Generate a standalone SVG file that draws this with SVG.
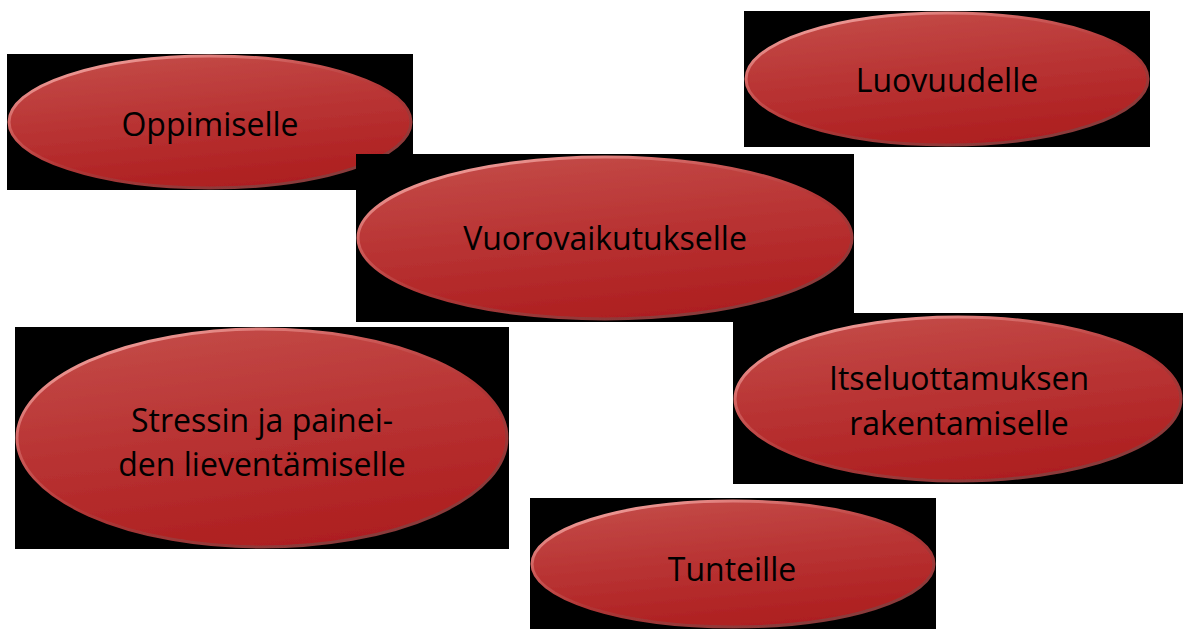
<svg xmlns="http://www.w3.org/2000/svg" width="1184" height="629" viewBox="0 0 1184 629">
  <defs>
    <linearGradient id="fillG" x1="0.3" y1="0" x2="0.6" y2="1">
      <stop offset="0" stop-color="#c34a47"/>
      <stop offset="0.5" stop-color="#b83232"/>
      <stop offset="1" stop-color="#ad1e1f"/>
    </linearGradient>
    <linearGradient id="rimG" x1="0" y1="0.2" x2="0.6" y2="1">
      <stop offset="0" stop-color="#ef9c98"/>
      <stop offset="0.3" stop-color="#cc5a58"/>
      <stop offset="0.6" stop-color="#b03434"/>
      <stop offset="1" stop-color="#8a3a3a"/>
    </linearGradient>
    <filter id="soft" x="-5%" y="-5%" width="110%" height="110%">
      <feGaussianBlur stdDeviation="0.6"/>
    </filter>
  </defs>
  <style>
    .bg { fill: #000000; }
    .oval { fill: url(#fillG); stroke: url(#rimG); stroke-width: 3; filter: url(#soft); }
    .lbl { font-family: "Open Sans", "Noto Sans", "Liberation Sans", sans-serif; font-size: 32px; fill: #000000; text-anchor: middle; }
  </style>
  <rect width="1184" height="629" fill="#ffffff"/>
  <g id="connectors"/>
  <g id="node-oppimiselle">
    <rect class="bg" x="7" y="54" width="406" height="136"/>
    <ellipse class="oval" cx="210" cy="122" rx="201" ry="66"/>
    <text class="lbl" x="210" y="136">Oppimiselle</text>
  </g>
  <g id="node-vuorovaikutukselle">
    <rect class="bg" x="356" y="154" width="498" height="168"/>
    <ellipse class="oval" cx="605" cy="238" rx="247" ry="81"/>
    <text class="lbl" x="605" y="250">Vuorovaikutukselle</text>
  </g>
  <g id="node-luovuudelle">
    <rect class="bg" x="744" y="11" width="406" height="136"/>
    <ellipse class="oval" cx="947" cy="79" rx="201" ry="66"/>
    <text class="lbl" x="947" y="92">Luovuudelle</text>
  </g>
  <g id="node-stressin">
    <rect class="bg" x="15" y="327" width="494" height="222"/>
    <ellipse class="oval" cx="262" cy="438" rx="245" ry="109"/>
    <text class="lbl" x="262" y="432">Stressin ja painei-</text>
    <text class="lbl" x="262" y="476">den lieventämiselle</text>
  </g>
  <g id="node-itseluottamuksen">
    <rect class="bg" x="733" y="313" width="450" height="171"/>
    <ellipse class="oval" cx="958" cy="399" rx="223" ry="82"/>
    <text class="lbl" x="959" y="390">Itseluottamuksen</text>
    <text class="lbl" x="959" y="435">rakentamiselle</text>
  </g>
  <g id="node-tunteille">
    <rect class="bg" x="530" y="498" width="406" height="131"/>
    <ellipse class="oval" cx="733" cy="564" rx="201" ry="63"/>
    <text class="lbl" x="732" y="581">Tunteille</text>
  </g>
</svg>
